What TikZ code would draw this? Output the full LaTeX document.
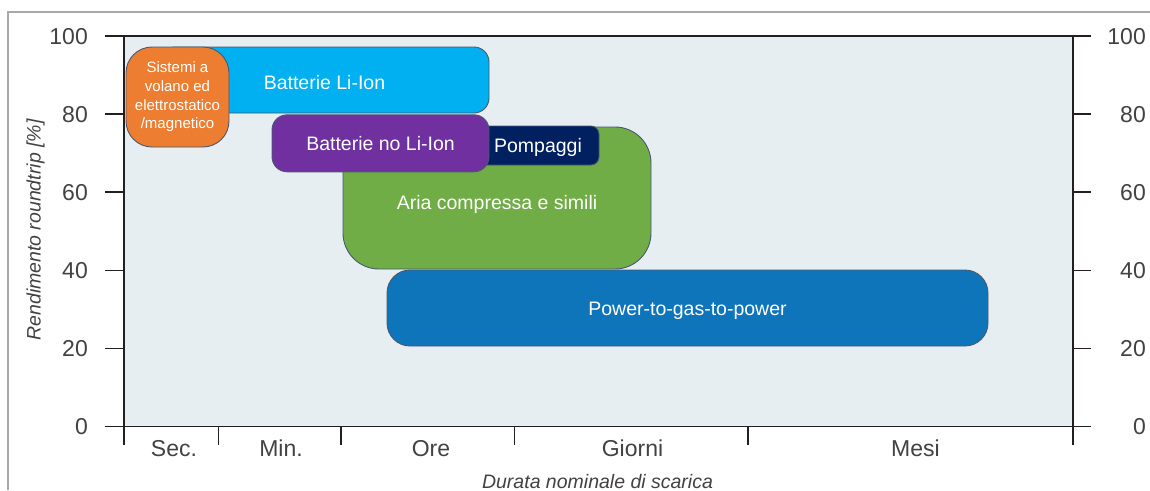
\documentclass[tikz,border=0pt]{standalone}
\usepackage{fontspec}
\setmainfont{Liberation Sans}
\definecolor{plotbg}{HTML}{E7EEF2}
\definecolor{frameg}{HTML}{A9A9A9}
\definecolor{axisc}{HTML}{231F20}
\definecolor{edgec}{HTML}{4A5870}
\definecolor{liion}{HTML}{00B0F0}
\definecolor{orangeb}{HTML}{ED7D31}
\definecolor{purpleb}{HTML}{7030A0}
\definecolor{navyb}{HTML}{002060}
\definecolor{greenb}{HTML}{70AD47}
\definecolor{ptgb}{HTML}{0E75BB}
\begin{document}
\begin{tikzpicture}[x=1pt,y=-1pt,
  box/.style={draw=edgec, line width=0.9pt, inner sep=0pt, text=white, align=center,
    font=\fontsize{19.5}{23}\selectfont},
  ticklab/.style={text=axisc!85, font=\fontsize{23}{26}\selectfont, inner sep=0pt},
  axline/.style={draw=axisc, line width=1.6pt},
  axtitle/.style={text=axisc!85, font=\fontsize{19.5}{22}\itshape, inner sep=0pt}]
\useasboundingbox (0,0) rectangle (1150,490);
\fill[white] (0,0) rectangle (1150,490);
% outer frame
\draw[frameg, line width=1.5pt] (8,490) -- (8,12) -- (1150,12);
% plot background
\fill[plotbg] (124,36) rectangle (1073,426.5);
% boxes
\node[box, fill=liion, minimum width=329pt, minimum height=66pt, rounded corners=15pt,
  text height=18.6pt, text depth=0pt] (li) at (324.5,80) {Batterie Li-Ion};
\node[box, fill=orangeb, minimum width=103pt, minimum height=100pt, rounded corners=26pt,
  font=\fontsize{15}{18.7}\selectfont] (vol) at (177.5,97) {Sistemi a\\volano ed\\elettrostatico\\/magnetico};
\node[box, fill=greenb, minimum width=308pt, minimum height=142pt, rounded corners=36pt,
  text height=26pt, text depth=4pt] (air) at (497,198) {Aria compressa e simili};
\node[box, fill=navyb, minimum width=122pt, minimum height=39pt, rounded corners=8pt,
  text height=17.6pt, text depth=4pt] (pump) at (538,145.5) {Pompaggi};
\node[box, fill=purpleb, minimum width=217pt, minimum height=57pt, rounded corners=15pt] (noli) at (380.5,143.3) {Batterie no Li-Ion};
\node[box, fill=ptgb, minimum width=601pt, minimum height=76pt, rounded corners=23pt,
  text height=18pt, text depth=4pt] (ptg) at (687.5,308) {Power-to-gas-to-power};
% axes
\draw[axline] (105,36) -- (1091,36);
\draw[axline] (105,426.5) -- (1091,426.5);
\draw[axline] (124,36) -- (124,445);
\draw[axline] (1073,36) -- (1073,445);
\foreach \v in {20,40,60,80} {
  \draw[axline] (105,{426.5-3.905*\v}) -- (124,{426.5-3.905*\v});
  \draw[axline] (1073,{426.5-3.905*\v}) -- (1091,{426.5-3.905*\v});
}
\foreach \xx in {218.3,341,514.3,747.7} {
  \draw[axline] (\xx,426.5) -- (\xx,445);
}
% y tick labels
\foreach \v in {0,20,40,60,80,100} {
  \node[ticklab, anchor=base east] (yl\v) at (88,{426.5-3.905*\v+8.2}) {\v};
  \node[ticklab, anchor=base east] (yr\v) at (1146,{426.5-3.905*\v+8.2}) {\v};
}
% x labels
\node[ticklab, anchor=base] (xsec) at (174,456.7) {Sec.};
\node[ticklab, anchor=base] (xmin) at (281,456.7) {Min.};
\node[ticklab, anchor=base] (xore) at (431,456.7) {Ore};
\node[ticklab, anchor=base] (xgio) at (632.5,456.7) {Giorni};
\node[ticklab, anchor=base] (xmes) at (915.5,456.7) {Mesi};
% titles
\node[axtitle, anchor=base] (xt) at (597.5,488) {Durata nominale di scarica};
\node[axtitle, anchor=base, rotate=90] (yt) at (40.5,230) {Rendimento roundtrip [\%]};
\end{tikzpicture}
\end{document}
